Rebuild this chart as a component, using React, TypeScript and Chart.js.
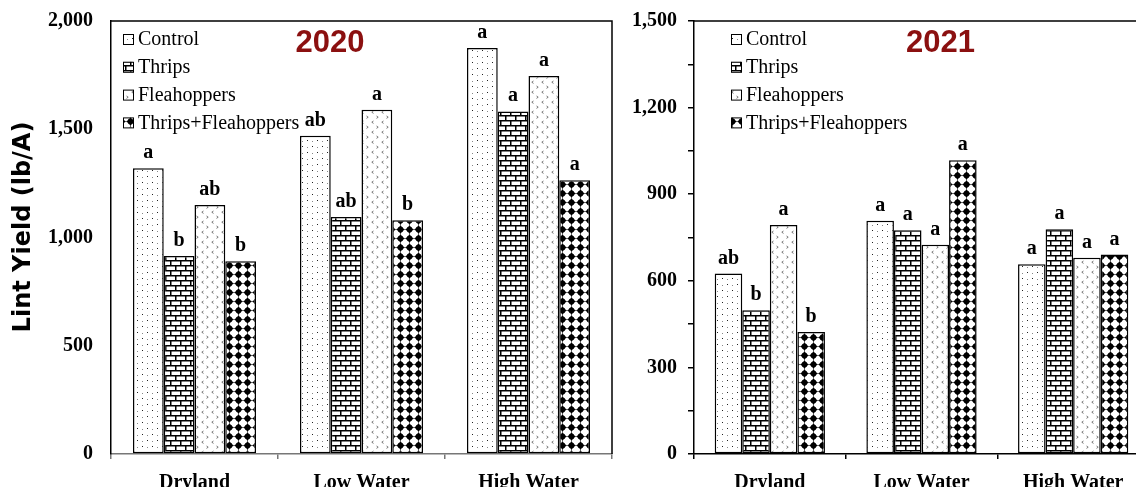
import React, { useEffect, useRef } from 'react';
import { Chart, registerables } from 'chart.js';
Chart.register(...registerables);

const categories = ['Dryland', 'Low Water', 'High Water'];
const treatments = ['Control', 'Thrips', 'Fleahoppers', 'Thrips+Fleahoppers'];

const yield2020Control = [1320, 1470, 1875];
const yield2020Thrips = [915, 1095, 1582];
const yield2020Flea = [1150, 1590, 1746];
const yield2020Both = [890, 1080, 1265];
const letters2020Control = ['a', 'ab', 'a'];
const letters2020Thrips = ['b', 'ab', 'a'];
const letters2020Flea = ['ab', 'a', 'a'];
const letters2020Both = ['b', 'b', 'a'];

const yield2021Control = [625, 808, 657];
const yield2021Thrips = [498, 775, 779];
const yield2021Flea = [793, 725, 680];
const yield2021Both = [423, 1018, 691];
const letters2021Control = ['ab', 'a', 'a'];
const letters2021Thrips = ['b', 'a', 'a'];
const letters2021Flea = ['a', 'a', 'a'];
const letters2021Both = ['b', 'a', 'a'];

const yTicks2020 = { min: 0, max: 2000, step: 500 };
const yTicks2021 = { min: 0, max: 1500, step: 150, labelEvery: 300 };

function makePattern(kind: string): CanvasPattern | string {
  const c = document.createElement('canvas');
  const g = c.getContext('2d');
  if (!g) return '#fff';
  if (kind === 'dots') {
    c.width = 10; c.height = 12;
    g.fillStyle = '#fff'; g.fillRect(0, 0, 10, 12);
    g.fillStyle = '#222';
    g.fillRect(2, 2, 1, 1);
    g.fillRect(7, 8, 1, 1);
    g.fillStyle = '#888';
    g.fillRect(7, 3, 1, 1);
    g.fillRect(2, 9, 1, 1);
  } else if (kind === 'brick') {
    c.width = 10; c.height = 10;
    g.fillStyle = '#fff'; g.fillRect(0, 0, 10, 10);
    g.fillStyle = '#000';
    g.fillRect(0, 0, 10, 1.5);
    g.fillRect(0, 5, 10, 1.5);
    g.fillRect(0, 0, 1.5, 5);
    g.fillRect(5, 5, 1.5, 5);
  } else if (kind === 'chevron') {
    c.width = 10; c.height = 10;
    g.fillStyle = '#fff'; g.fillRect(0, 0, 10, 10);
    g.strokeStyle = '#555'; g.lineWidth = 0.8;
    g.beginPath();
    g.moveTo(3.5, 1); g.lineTo(1.8, 2.2); g.lineTo(3.5, 3.4);
    g.moveTo(6.5, 6); g.lineTo(8.2, 7.2); g.lineTo(6.5, 8.4);
    g.stroke();
  } else {
    c.width = 9; c.height = 9;
    g.fillStyle = '#fff'; g.fillRect(0, 0, 9, 9);
    g.fillStyle = '#000';
    g.beginPath(); g.arc(4.5, 4.5, 2.9, 0, Math.PI * 2); g.fill();
    g.beginPath();
    g.moveTo(4.5, 0); g.lineTo(5.5, 1.5); g.lineTo(4.5, 3); g.lineTo(3.5, 1.5); g.closePath();
    g.moveTo(4.5, 6); g.lineTo(5.5, 7.5); g.lineTo(4.5, 9); g.lineTo(3.5, 7.5); g.closePath();
    g.moveTo(0, 4.5); g.lineTo(1.5, 3.5); g.lineTo(3, 4.5); g.lineTo(1.5, 5.5); g.closePath();
    g.moveTo(6, 4.5); g.lineTo(7.5, 3.5); g.lineTo(9, 4.5); g.lineTo(7.5, 5.5); g.closePath();
    g.fill();
  }
  return g.createPattern(c, 'repeat') || '#fff';
}

const SERIF = '"Liberation Serif", "Times New Roman", serif';
const SANS = '"DejaVu Sans", sans-serif';

interface PanelCfg {
  values: number[][];
  letters: string[][];
  title: string;
  titleX: number;
  legendX: number;
  yAxisWidth: number;
  yMin: number;
  yMax: number;
  step: number;
  labelEvery: number;
  tickLen: number;
  tickPad: number;
  axisColor: string;
  catPct: number;
  yTitle: boolean;
}

function buildChart(canvas: HTMLCanvasElement, cfg: PanelCfg) {
  const kinds = ['dots', 'brick', 'chevron', 'diamond'];
  const pats = kinds.map(makePattern);

  const decorations = {
    id: 'decorations',
    afterDatasetsDraw(chart: any) {
      const ctx = chart.ctx;
      const a = chart.chartArea;
      ctx.save();
      // box top & right
      ctx.strokeStyle = '#000';
      ctx.lineWidth = 1.5;
      ctx.beginPath();
      ctx.moveTo(a.left, a.top);
      ctx.lineTo(a.right, a.top);
      ctx.lineTo(a.right, a.bottom);
      ctx.stroke();
      // letters
      ctx.fillStyle = '#000';
      ctx.font = `bold 20px ${SERIF}`;
      ctx.textAlign = 'center';
      ctx.textBaseline = 'alphabetic';
      cfg.letters.forEach((ls, di) => {
        const meta = chart.getDatasetMeta(di);
        meta.data.forEach((el: any, j: number) => {
          ctx.fillText(ls[j], el.x, el.y - 10);
        });
      });
      // legend
      treatments.forEach((t, i) => {
        const yc = 39 + i * 27.8;
        ctx.fillStyle = pats[i];
        ctx.fillRect(cfg.legendX, yc - 5, 10, 10);
        ctx.strokeStyle = '#000';
        ctx.lineWidth = 1;
        ctx.strokeRect(cfg.legendX + 0.5, yc - 4.5, 10, 10);
        ctx.fillStyle = '#000';
        ctx.font = `20px ${SERIF}`;
        ctx.textAlign = 'left';
        ctx.textBaseline = 'middle';
        ctx.fillText(t, cfg.legendX + 15, yc + 1);
      });
      // title
      ctx.fillStyle = '#8b1010';
      ctx.font = `bold 31px "Liberation Sans", Arial, sans-serif`;
      ctx.textAlign = 'center';
      ctx.textBaseline = 'middle';
      ctx.fillText(cfg.title, cfg.titleX, 43);
      // y title
      if (cfg.yTitle) {
        ctx.save();
        ctx.translate(24, 227);
        ctx.rotate(-Math.PI / 2);
        ctx.fillStyle = '#000';
        ctx.font = `bold 24px ${SANS}`;
        ctx.textAlign = 'center';
        ctx.textBaseline = 'middle';
        ctx.fillText('Lint Yield (lb/A)', 0, 0);
        ctx.restore();
      }
      ctx.restore();
    },
  };

  return new Chart(canvas, {
    type: 'bar',
    data: {
      labels: categories,
      datasets: treatments.map((t, i) => ({
        label: t,
        data: cfg.values[i],
        backgroundColor: pats[i] as any,
        borderColor: '#000',
        borderWidth: 1.5,
        borderSkipped: false,
        barPercentage: 1,
        categoryPercentage: cfg.catPct,
      })),
    },
    options: {
      animation: false,
      responsive: false,
      maintainAspectRatio: false,
      layout: { padding: { left: 0, right: 8, top: 21, bottom: 0 } },
      plugins: {
        legend: { display: false },
        tooltip: { enabled: false },
        title: { display: false },
      },
      scales: {
        x: {
          grid: {
            display: true,
            drawOnChartArea: false,
            drawTicks: true,
            tickLength: 5,
            offset: true,
            color: cfg.axisColor,
            lineWidth: 1.5,
          },
          border: { display: true, color: cfg.axisColor, width: 1.5 },
          ticks: {
            color: '#000',
            font: { family: SERIF, size: 20, weight: 'bold' },
            padding: 12,
          },
          afterFit: (s: any) => { s.height = 33; s.paddingLeft = 0; s.paddingRight = 0; },
        },
        y: {
          min: cfg.yMin,
          max: cfg.yMax,
          grid: {
            display: true,
            drawOnChartArea: false,
            drawTicks: cfg.tickLen > 0,
            tickLength: cfg.tickLen,
            color: '#000',
            lineWidth: 1.5,
          },
          border: { display: true, color: '#000', width: 1.5 },
          ticks: {
            stepSize: cfg.step,
            color: '#000',
            padding: cfg.tickPad,
            font: { family: SERIF, size: 20, weight: 'bold' },
            callback: (v: any) => (Number(v) % cfg.labelEvery === 0 ? Number(v).toLocaleString('en-US') : ''),
          },
          afterFit: (s: any) => { s.width = cfg.yAxisWidth; s.paddingTop = 0; s.paddingBottom = 0; },
        },
      },
    } as any,
    plugins: [decorations],
  });
}

export default function App() {
  const leftRef = useRef<HTMLCanvasElement>(null);
  const rightRef = useRef<HTMLCanvasElement>(null);

  useEffect(() => {
    if (!leftRef.current || !rightRef.current) return;
    const left = buildChart(leftRef.current, {
      values: [yield2020Control, yield2020Thrips, yield2020Flea, yield2020Both],
      letters: [letters2020Control, letters2020Thrips, letters2020Flea, letters2020Both],
      title: '2020',
      titleX: 330,
      legendX: 123,
      yAxisWidth: 111,
      yMin: yTicks2020.min,
      yMax: yTicks2020.max,
      step: yTicks2020.step,
      labelEvery: yTicks2020.step,
      tickLen: 0,
      tickPad: 18,
      axisColor: '#777',
      catPct: 0.737,
      yTitle: true,
    });
    const right = buildChart(rightRef.current, {
      values: [yield2021Control, yield2021Thrips, yield2021Flea, yield2021Both],
      letters: [letters2021Control, letters2021Thrips, letters2021Flea, letters2021Both],
      title: '2021',
      titleX: 320.5,
      legendX: 111,
      yAxisWidth: 74,
      yMin: yTicks2021.min,
      yMax: yTicks2021.max,
      step: yTicks2021.step,
      labelEvery: yTicks2021.labelEvery,
      tickLen: 6,
      tickPad: 11,
      axisColor: '#000',
      catPct: 0.727,
      yTitle: false,
    });
    return () => {
      left.destroy();
      right.destroy();
    };
  }, []);

  return (
    <div style={{ position: 'fixed', left: 0, top: 0, width: 1136, height: 487, overflow: 'hidden', background: '#fff' }}>
      <canvas ref={leftRef} width={620} height={487} style={{ position: 'absolute', left: 0, top: 0, width: 620, height: 487 }} />
      <canvas ref={rightRef} width={537} height={487} style={{ position: 'absolute', left: 620, top: 0, width: 537, height: 487 }} />
    </div>
  );
}
